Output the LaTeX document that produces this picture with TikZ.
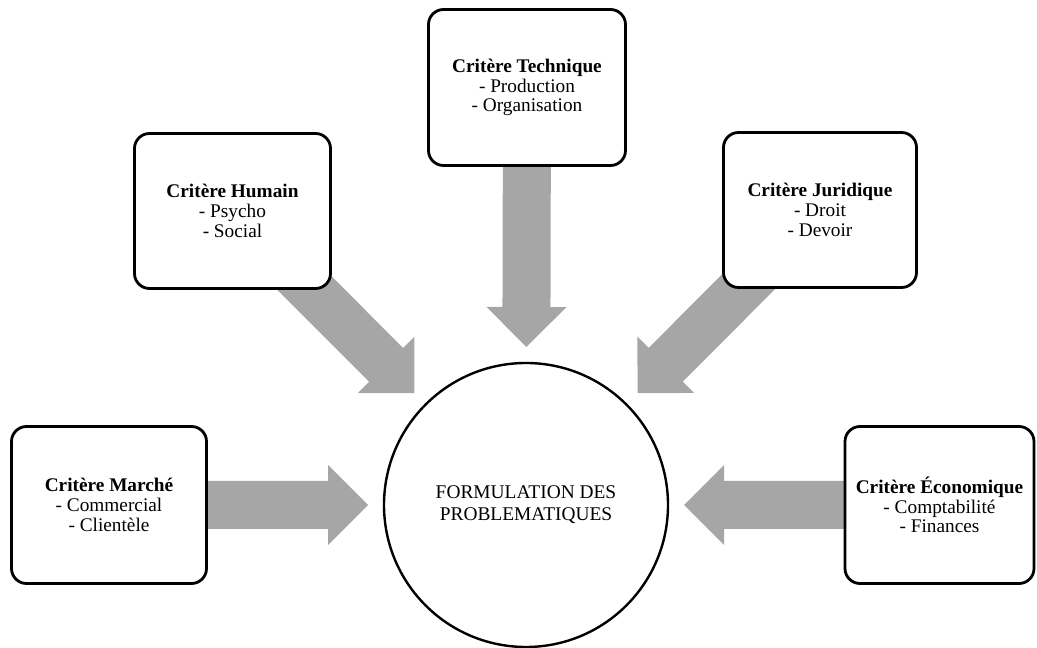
\documentclass[tikz,border=0pt]{standalone}
\usepackage{fontspec}
\setmainfont{Liberation Serif}
\usetikzlibrary{calc,backgrounds}
\definecolor{arrowgray}{HTML}{A6A6A6}
\newcommand\blockarr[2]{%
  \path[fill=arrowgray] let \p1=(#1), \p2=(#2),
    \n1={atan2(\y2-\y1,\x2-\x1)}, \n2={veclen(\x2-\x1,\y2-\y1)-40},
    \n3={\n1+90}, \n4={\n1-90} in
    ($(\p1)+(\n3:24)$) -- ($(\p1)+(\n1:\n2)+(\n3:24)$) --
    ($(\p1)+(\n1:\n2)+(\n3:40)$) -- (\p2) --
    ($(\p1)+(\n1:\n2)+(\n4:40)$) -- ($(\p1)+(\n1:\n2)+(\n4:24)$) --
    ($(\p1)+(\n4:24)$) -- cycle;}
\begin{document}
\begin{tikzpicture}[x=1pt,y=1pt,
  critbox/.style={draw,line width=2.8pt,rounded corners=15pt,fill=white,
    align=center,inner sep=0pt,font=\fontsize{19.3}{19.8}\selectfont},
  centre/.style={draw,circle,line width=2.4pt,fill=white,inner sep=0pt,
    minimum size=284pt,align=center,font=\fontsize{19.4}{22}\selectfont}]
\useasboundingbox (0,0) rectangle (1037,648);
\node[critbox,minimum width=197pt,minimum height=156pt] (tech) at (527,560.5)
  {\textbf{Critère Technique}\\- Production\\- Organisation};
\node[critbox,minimum width=196pt,minimum height=155pt] (hum) at (232.5,437)
  {\textbf{Critère Humain}\\- Psycho\\- Social};
\node[critbox,minimum width=193pt,minimum height=155pt] (jur) at (820,438)
  {\textbf{Critère Juridique}\\- Droit\\- Devoir};
\node[critbox,minimum width=195pt,minimum height=157pt] (mar) at (109,143)
  {\textbf{Critère Marché}\\- Commercial\\- Clientèle};
\node[critbox,minimum width=189pt,minimum height=157pt] (eco) at (939.5,143)
  {\textbf{Critère Économique}\\- Comptabilité\\- Finances};
\node[centre] (circ) at (526,143) {FORMULATION DES\\PROBLEMATIQUES};
\coordinate (tT) at ($(circ.center)!158pt!(tech.center)$);
\coordinate (tH) at ($(circ.center)!158pt!(hum.center)$);
\coordinate (tJ) at ($(circ.center)!158pt!(jur.center)$);
\coordinate (tM) at ($(circ.center)!158pt!(mar.center)$);
\coordinate (tE) at ($(circ.center)!158pt!(eco.center)$);
\begin{scope}[on background layer]
  \blockarr{tech.center}{tT}
  \blockarr{hum.center}{tH}
  \blockarr{jur.center}{tJ}
  \blockarr{mar.center}{tM}
  \blockarr{eco.center}{tE}
\end{scope}
\end{tikzpicture}
\end{document}
